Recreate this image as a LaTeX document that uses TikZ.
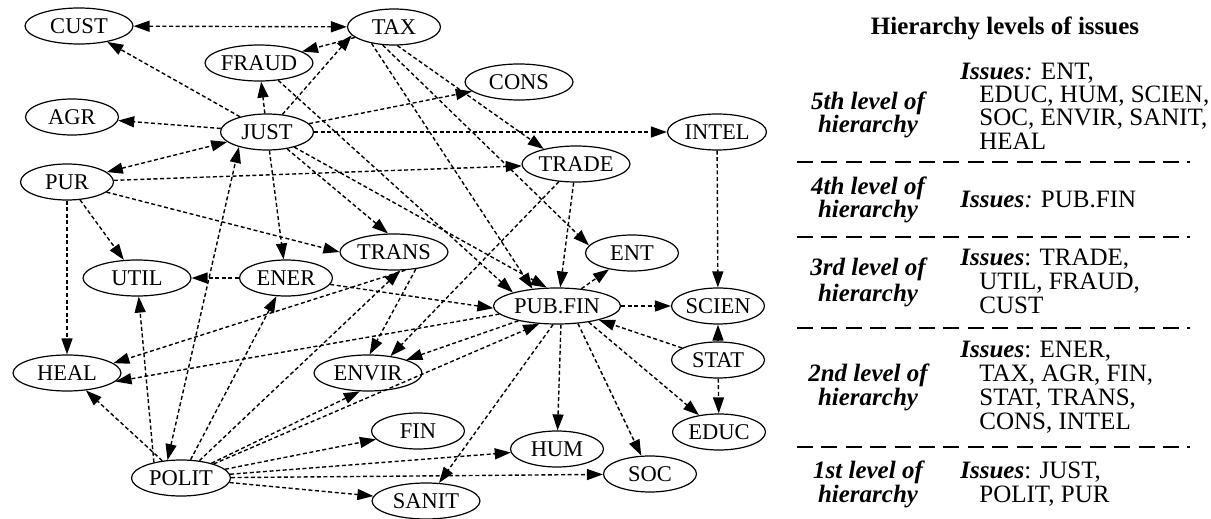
\documentclass[tikz,border=0pt]{standalone}
\usepackage{fontspec}
\setmainfont{Liberation Serif}
\usetikzlibrary{shapes.geometric,arrows.meta}
\begin{document}
\begin{tikzpicture}[x=0.5pt,y=-0.5pt,
  ell/.style={draw, ellipse, line width=0.6pt, inner sep=0pt, minimum height=18pt, font=\fontsize{11.25}{13}\selectfont},
  ws/.style={ell, minimum width=46.5pt},
  wm/.style={ell, minimum width=54pt},
  wl/.style={ell, minimum width=63.5pt},
  wp/.style={ell, minimum width=49.5pt},
  tip/.tip={Triangle[length=8pt,width=5.5pt]},
  edge/.style={line width=0.7pt, dash pattern=on 2pt off 1.3pt, -tip},
  bi/.style={line width=0.7pt, dash pattern=on 2pt off 1.3pt, tip-tip},
  tl/.style={anchor=base, inner sep=0pt, font=\fontsize{12.5}{14}\selectfont\bfseries\itshape},
  tr/.style={anchor=base west, inner sep=0pt, font=\fontsize{12.5}{14}\selectfont},
  sep/.style={line width=0.6pt, dash pattern=on 8pt off 4.2pt}
]
\useasboundingbox (0,0) rectangle (1211,519);
% nodes
\node[wm] (cust) at (79,26) {CUST};
\node[ws] (tax) at (394,27) {TAX};
\node[wm] (fraud) at (259,63) {FRAUD};
\node[wm] (cons) at (519,82) {CONS};
\node[ws] (agr) at (72,117) {AGR};
\node[ws] (just) at (267,132) {JUST};
\node[wp] (intel) at (717,132) {INTEL};
\node[ws] (pur) at (67,182) {PUR};
\node[wm] (trade) at (576,164) {TRADE};
\node[wm] (util) at (137,278) {UTIL};
\node[ws] (ener) at (286,278) {ENER};
\node[wm] (trans) at (394,252) {TRANS};
\node[ws] (ent) at (632,253) {ENT};
\node[wl] (pubfin) at (557,306) {PUB.FIN};
\node[ws] (scien) at (718,306) {SCIEN};
\node[ws] (stat) at (718,360) {STAT};
\node[wm] (heal) at (67,373) {HEAL};
\node[wm] (envir) at (368,373) {ENVIR};
\node[ws] (educ) at (719,432) {EDUC};
\node[ws] (fin) at (418,431) {FIN};
\node[ws] (hum) at (557,449) {HUM};
\node[ws] (soc) at (650,474) {SOC};
\node[wp] (polit) at (181,478) {POLIT};
\node[wm] (sanit) at (426,501) {SANIT};
% edges
\draw[bi] (cust) -- (tax);
\draw[edge] (tax) -- (fraud);
\draw[edge] (just) -- (cust);
\draw[edge] (just) -- (fraud);
\draw[edge] (just) -- (tax.191);
\draw[edge] (just) -- (agr);
\draw[bi] (pur) -- (just);
\draw[edge] (just) -- (cons);
\draw[edge] (just) -- (intel);
\draw[edge] (just) -- (ener);
\draw[edge] (just) -- (trans.108);
\draw[edge] (just) -- (pubfin.119);
\draw[edge] (tax.-80) -- (trade.155);
\draw[edge] (tax.-144) -- (pubfin.145);
\draw[edge] (tax.-122) -- (ent.170);
\draw[edge] (fraud) -- (pubfin.163);
\draw[edge] (pur) -- (trade);
\draw[edge] (pur) -- (trans.180);
\draw[edge] (pur) -- (util);
\draw[edge] (pur) -- (heal);
\draw[edge] (trade) -- (pubfin.80);
\draw[edge] (trade) -- (envir.37);
\draw[edge] (intel) -- (scien);
\draw[edge] (ener) -- (util);
\draw[edge] (ener) -- (pubfin.182);
\draw[edge] (trans.-38) -- (envir.85);
\draw[edge] (trans.-58) -- (heal.12);
\draw[edge] (polit) -- (trans.-71);
\draw[edge] (polit) -- (heal);
\draw[edge] (polit.150) -- (util);
\draw[bi] (polit.127) -- (just.208);
\draw[edge] (polit) -- (ener);
\draw[edge] (polit) -- (envir.-114);
\draw[edge] (polit) -- (pubfin.225);
\draw[edge] (polit) -- (fin);
\draw[edge] (polit) -- (hum);
\draw[edge] (polit) -- (soc);
\draw[edge] (polit) -- (sanit);
\draw[edge] (pubfin) -- (ent);
\draw[edge] (pubfin) -- (scien);
\draw[edge] (pubfin.188) -- (heal.-10);
\draw[edge] (pubfin.201) -- (envir.19);
\draw[edge] (pubfin.-78) -- (hum);
\draw[edge] (pubfin.-40) -- (soc);
\draw[edge] (pubfin.-27) -- (educ);
\draw[edge] (pubfin.-102) -- (sanit);
\draw[edge] (stat) -- (pubfin);
\draw[edge] (stat) -- (scien);
\draw[edge] (stat) -- (educ);
% table
\node[anchor=base, inner sep=0pt, font=\fontsize{12.5}{14}\selectfont\bfseries] (title) at (1005,35) {Hierarchy levels of issues};
\node[tl] (l5a) at (868,110) {5th level of};
\node[tl] (l5b) at (868,133) {hierarchy};
\node[tr] (i5a) at (960,80) {\textbf{\textit{Issues}}\textit{:} ENT,};
\node[tr] (i5b) at (979,103) {EDUC, HUM, SCIEN,};
\node[tr] (i5c) at (979,126) {SOC, ENVIR, SANIT,};
\node[tr] (i5d) at (979,149) {HEAL};
\draw[sep] (797,162) -- (1190,162);
\node[tl] (l4a) at (868,195) {4th level of};
\node[tl] (l4b) at (868,218) {hierarchy};
\node[tr] (i4a) at (960,207) {\textbf{\textit{Issues}}\textit{:} PUB.FIN};
\draw[sep] (797,237) -- (1190,237);
\node[tl] (l3a) at (868,275) {3rd level of};
\node[tl] (l3b) at (868,301) {hierarchy};
\node[tr] (i3a) at (960,265) {\textbf{\textit{Issues}}: TRADE,};
\node[tr] (i3b) at (979,289) {UTIL, FRAUD,};
\node[tr] (i3c) at (979,313) {CUST};
\draw[sep] (797,328) -- (1190,328);
\node[tl] (l2a) at (868,381) {2nd level of};
\node[tl] (l2b) at (868,405) {hierarchy};
\node[tr] (i2a) at (960,357) {\textbf{\textit{Issues}}: ENER,};
\node[tr] (i2b) at (979,381) {TAX, AGR, FIN,};
\node[tr] (i2c) at (979,405) {STAT, TRANS,};
\node[tr] (i2d) at (979,429) {CONS, INTEL};
\draw[sep] (797,447) -- (1190,447);
\node[tl] (l1a) at (868,478) {1st level of};
\node[tl] (l1b) at (868,502) {hierarchy};
\node[tr] (i1a) at (960,478) {\textbf{\textit{Issues}}: JUST,};
\node[tr] (i1b) at (979,502) {POLIT, PUR};
\end{tikzpicture}
\end{document}
